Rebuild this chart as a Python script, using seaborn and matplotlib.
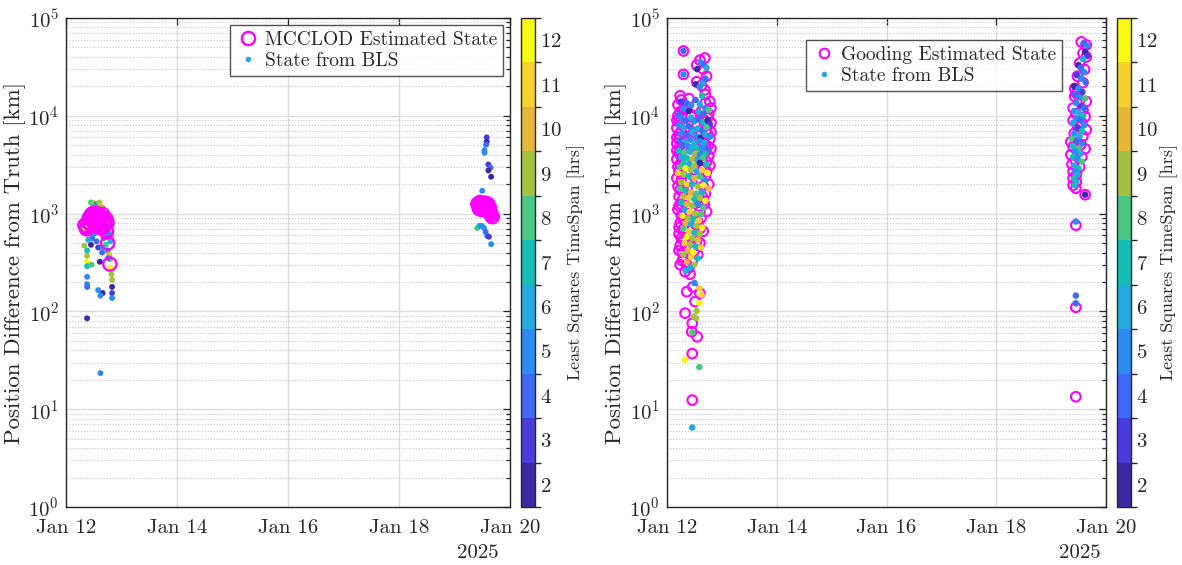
import numpy as np
import pandas as pd
import matplotlib
matplotlib.use("Agg")
import matplotlib.pyplot as plt
import matplotlib.dates as mdates
from matplotlib.colors import ListedColormap, BoundaryNorm
from matplotlib.lines import Line2D
from matplotlib.ticker import LogLocator, NullFormatter
import seaborn as sns

# ---------------- data (day offset from 2025-01-12, km, hrs) ----------------
START = "2025-01-12"
CBAR_TICKS = list(range(2, 13))
CBAR_COLORS = ["#3d27a3", "#483cdc", "#3f6af8", "#2d8cf3", "#24aade", "#14bdb5",
               "#4ac883", "#a4c23f", "#e8b737", "#f9d12e", "#f8fa14"]
XTICK_DAYS = ["2025-01-12", "2025-01-14", "2025-01-16", "2025-01-18", "2025-01-20"]

# Left panel: MCCLOD estimated states (day, km)
L_MCC = [(0.37, 700), (0.34, 760), (0.40, 820), (0.42, 900), (0.45, 960), (0.48, 1000),
         (0.50, 870), (0.52, 940), (0.55, 1000), (0.57, 880), (0.60, 960), (0.62, 820),
         (0.64, 900), (0.66, 980), (0.68, 840), (0.70, 760), (0.72, 880), (0.74, 800),
         (0.44, 780), (0.53, 780), (0.60, 720), (0.38, 730), (0.47, 850), (0.58, 800),
         (0.66, 720), (0.73, 650), (0.75, 500), (0.79, 305),
         (7.42, 1250), (7.44, 1200), (7.46, 1300), (7.48, 1180), (7.50, 1250), (7.52, 1150),
         (7.54, 1220), (7.56, 1120), (7.58, 1180), (7.60, 1100), (7.62, 1060), (7.64, 1020),
         (7.66, 980), (7.68, 930), (7.45, 1120), (7.50, 1100), (7.55, 1280), (7.60, 1250),
         (7.63, 1150)]

# Left panel: states from BLS (day, km, hrs)
L_BLS = [(0.45, 1300, 8), (0.50, 1280, 9), (0.55, 1250, 5), (0.60, 1300, 9), (0.62, 1200, 10),
         (0.48, 1150, 7), (0.53, 1100, 3), (0.58, 1120, 4), (0.64, 1050, 2), (0.47, 1050, 5),
         (0.57, 1020, 6), (0.66, 1150, 9),
         (0.38, 420, 7), (0.38, 370, 9), (0.38, 322, 12), (0.38, 290, 7), (0.38, 226, 5),
         (0.38, 190, 5), (0.38, 178, 4), (0.38, 85, 2), (0.45, 480, 2), (0.47, 560, 4),
         (0.50, 620, 5), (0.55, 520, 4), (0.58, 450, 3), (0.61, 322, 2), (0.65, 400, 4),
         (0.68, 560, 5), (0.70, 600, 7), (0.72, 480, 8), (0.75, 420, 5), (0.78, 380, 10),
         (0.80, 340, 9), (0.80, 280, 12), (0.82, 240, 9), (0.83, 210, 9), (0.83, 178, 2),
         (0.83, 154, 3), (0.83, 137, 5), (0.66, 154, 2), (0.62, 145, 5), (0.58, 165, 5),
         (0.62, 23.4, 5), (0.40, 540, 6), (0.42, 650, 3), (0.52, 700, 6), (0.60, 760, 7),
         (0.72, 700, 4), (0.78, 620, 5), (0.80, 520, 6), (0.76, 350, 4), (0.66, 450, 6),
         (0.46, 300, 8), (0.33, 700, 12), (0.33, 470, 9),
         (7.58, 6020, 3), (7.58, 5440, 2), (7.57, 5070, 4), (7.54, 4450, 5), (7.54, 4180, 5),
         (7.61, 3180, 3), (7.65, 2950, 4), (7.61, 2760, 2), (7.66, 2380, 2), (7.50, 1710, 5),
         (7.47, 1290, 5), (7.49, 1010, 4), (7.41, 710, 8), (7.45, 750, 7), (7.49, 750, 5),
         (7.53, 715, 5), (7.56, 650, 4), (7.59, 590, 4), (7.62, 580, 3), (7.66, 487, 5)]

# Right panel: Gooding estimated states (day, km)
R_GOOD = [(0.30, 46000), (0.30, 26500), (0.60, 37000), (0.69, 39000), (0.54, 33000),
          (0.66, 30000), (0.72, 25400), (0.54, 22300), (0.63, 20500), (0.69, 18400),
          (0.24, 16000), (0.40, 15000), (0.70, 16500), (0.78, 14000), (0.20, 13000),
          (0.52, 12500), (0.80, 12000), (0.30, 11500), (0.62, 11000), (0.20, 10000),
          (0.76, 10500), (0.44, 9800), (0.18, 9000), (0.66, 9200), (0.80, 8500),
          (0.28, 8200), (0.55, 8000), (0.18, 7500), (0.72, 7200), (0.36, 7000),
          (0.80, 6800), (0.22, 6500), (0.60, 6300), (0.18, 6000), (0.78, 5800),
          (0.42, 5600), (0.18, 5200), (0.70, 5000), (0.28, 4800), (0.80, 4600),
          (0.18, 4400), (0.56, 4200), (0.24, 4000), (0.76, 3900), (0.18, 3600),
          (0.64, 3500), (0.34, 3300), (0.78, 3100), (0.20, 3000), (0.50, 2800),
          (0.72, 2700), (0.26, 2500), (0.18, 2300), (0.62, 2200), (0.36, 2100),
          (0.76, 2000), (0.20, 1900), (0.54, 1800), (0.30, 1700), (0.70, 1600),
          (0.22, 1500), (0.46, 1400), (0.66, 1350), (0.26, 1250), (0.58, 1200),
          (0.20, 1100), (0.72, 1050), (0.36, 1000), (0.26, 950), (0.62, 900),
          (0.40, 850), (0.24, 800), (0.52, 780), (0.30, 700), (0.66, 660),
          (0.22, 620), (0.48, 580), (0.30, 540), (0.60, 500), (0.24, 470),
          (0.42, 440), (0.28, 400), (0.56, 380), (0.30, 350), (0.46, 330),
          (0.24, 300), (0.40, 280), (0.33, 255), (0.42, 240),
          (0.26, 14500), (0.34, 12000), (0.70, 13500), (0.24, 11000), (0.74, 9500),
          (0.22, 8600), (0.34, 7600), (0.68, 7800), (0.26, 6900), (0.74, 6500),
          (0.22, 5800), (0.64, 5400), (0.24, 5000), (0.74, 4900), (0.22, 4200),
          (0.70, 4300), (0.26, 3800), (0.72, 3400), (0.24, 3200), (0.68, 2950),
          (0.22, 2700), (0.70, 2400), (0.26, 2150), (0.66, 1900), (0.24, 1750),
          (0.64, 1500), (0.28, 1380), (0.68, 1250), (0.22, 1200), (0.60, 1050),
          (0.30, 880), (0.56, 820), (0.22, 720), (0.60, 700), (0.26, 560),
          (0.54, 520), (0.22, 420), (0.50, 420), (0.28, 330), (0.36, 300),
          (0.47, 178), (0.60, 153), (0.36, 159), (0.51, 126), (0.33, 96),
          (0.46, 75.5), (0.45, 62), (0.55, 55), (0.46, 37), (0.46, 12.4),
          (7.55, 57000), (7.64, 53000), (7.58, 43600), (7.64, 40000), (7.52, 34600),
          (7.61, 29800), (7.48, 25400), (7.58, 21800), (7.43, 19000), (7.46, 17000),
          (7.43, 15800), (7.52, 14500), (7.64, 14000), (7.40, 12000), (7.58, 11500),
          (7.45, 10500), (7.62, 9800), (7.40, 9000), (7.56, 8500), (7.48, 7800),
          (7.64, 7200), (7.42, 6600), (7.58, 6200), (7.46, 5700), (7.36, 5400),
          (7.54, 5100), (7.40, 4800), (7.62, 4600), (7.48, 4300), (7.36, 4000),
          (7.56, 3800), (7.44, 3500), (7.38, 3200), (7.52, 3000), (7.40, 2700),
          (7.46, 2500), (7.40, 2300), (7.46, 2100), (7.40, 1950), (7.45, 1820),
          (7.62, 1560), (7.45, 760), (7.45, 110), (7.45, 13.4)]

# Right panel: states from BLS (day, km, hrs)
R_BLS = [(0.30, 46000, 4), (0.30, 26500, 5), (0.55, 30000, 2), (0.62, 35000, 5),
         (0.68, 33000, 4), (0.72, 31000, 6), (0.52, 21000, 2), (0.60, 20000, 5),
         (0.66, 22000, 6), (0.70, 24000, 4), (0.64, 16000, 7),
         (0.26, 14000, 3), (0.36, 13500, 4), (0.44, 12800, 5), (0.52, 14500, 4),
         (0.60, 13000, 6), (0.70, 12000, 5), (0.30, 11800, 5), (0.40, 11200, 2),
         (0.58, 11000, 6), (0.66, 10500, 4), (0.76, 11500, 8), (0.22, 10200, 4),
         (0.26, 9500, 5), (0.34, 9000, 4), (0.44, 9600, 6), (0.50, 8800, 5), (0.58, 9200, 4),
         (0.66, 8600, 7), (0.74, 9000, 2), (0.78, 8200, 3), (0.22, 8000, 5), (0.30, 7600, 6),
         (0.40, 7800, 4), (0.48, 7200, 5), (0.56, 7400, 6), (0.64, 7000, 4), (0.72, 7600, 8),
         (0.26, 6600, 5), (0.36, 6400, 4), (0.46, 6800, 6), (0.54, 6200, 5), (0.62, 6000, 2),
         (0.70, 6400, 6), (0.78, 6100, 5), (0.24, 5600, 4), (0.32, 5400, 6), (0.42, 5700, 5),
         (0.50, 5200, 7), (0.60, 5500, 5), (0.68, 5300, 6), (0.28, 5000, 4), (0.38, 4900, 5),
         (0.46, 4800, 6), (0.56, 4600, 7), (0.64, 4700, 5), (0.74, 4500, 4), (0.22, 4400, 7),
         (0.32, 4200, 8), (0.42, 4300, 6), (0.52, 4100, 9), (0.60, 4000, 5), (0.70, 4100, 7),
         (0.26, 3800, 6), (0.36, 3700, 7), (0.46, 3600, 9), (0.56, 3500, 6), (0.66, 3700, 8),
         (0.30, 3300, 7), (0.40, 3200, 6), (0.50, 3100, 9), (0.60, 3300, 2), (0.72, 3200, 7),
         (0.24, 3000, 8),
         (0.34, 2900, 12), (0.44, 2800, 9), (0.54, 2700, 6), (0.64, 2800, 11), (0.74, 2600, 12),
         (0.20, 2600, 11), (0.30, 2500, 9), (0.40, 2400, 7), (0.50, 2300, 10), (0.60, 2400, 8),
         (0.70, 2200, 5), (0.26, 2100, 9), (0.36, 2000, 11), (0.46, 2000, 6), (0.56, 1900, 9),
         (0.66, 1950, 12), (0.76, 1800, 10), (0.24, 1800, 8), (0.34, 1700, 7), (0.44, 1650, 10),
         (0.54, 1600, 8), (0.64, 1650, 6), (0.30, 1500, 9), (0.40, 1450, 11), (0.50, 1400, 7),
         (0.60, 1450, 9), (0.70, 1350, 12), (0.26, 1300, 7), (0.36, 1250, 10), (0.46, 1200, 9),
         (0.56, 1250, 5), (0.66, 1150, 8), (0.32, 1100, 6), (0.42, 1050, 11), (0.52, 1000, 9),
         (0.62, 980, 8), (0.28, 950, 12), (0.38, 900, 9), (0.48, 880, 7), (0.58, 850, 11),
         (0.34, 800, 10), (0.44, 780, 6), (0.54, 750, 9), (0.64, 720, 12), (0.30, 700, 8),
         (0.40, 660, 11), (0.50, 640, 7), (0.60, 620, 9), (0.36, 580, 12), (0.46, 560, 9),
         (0.56, 540, 10), (0.32, 500, 11), (0.42, 480, 9), (0.52, 460, 7), (0.62, 450, 11),
         (0.38, 420, 10), (0.48, 400, 12), (0.30, 380, 9), (0.44, 360, 11), (0.56, 350, 7),
         (0.36, 320, 10), (0.50, 300, 9), (0.42, 280, 6), (0.34, 260, 6),
         (0.50, 195, 5), (0.59, 172, 11), (0.63, 147, 11), (0.59, 121, 12), (0.54, 101, 9),
         (0.49, 88, 9), (0.53, 85, 9), (0.46, 61, 8), (0.33, 32, 12), (0.59, 27, 8),
         (0.46, 6.5, 6),
         (7.59, 55000, 4), (7.66, 52000, 5), (7.62, 45000, 2), (7.66, 41000, 3),
         (7.58, 38000, 6), (7.50, 33000, 2), (7.54, 31000, 4), (7.60, 28000, 5),
         (7.47, 26000, 3), (7.55, 24000, 5), (7.63, 22000, 4), (7.42, 20000, 2),
         (7.50, 19000, 5), (7.57, 17500, 3), (7.44, 16500, 4), (7.52, 15500, 5),
         (7.62, 15000, 8), (7.46, 13500, 5), (7.55, 12500, 3), (7.60, 12000, 4),
         (7.42, 11200, 5), (7.50, 10800, 6), (7.58, 10000, 7), (7.46, 9400, 5),
         (7.54, 9000, 4), (7.40, 8500, 6), (7.60, 8000, 5), (7.48, 7600, 3), (7.56, 7000, 7),
         (7.42, 6600, 5), (7.52, 6200, 6), (7.38, 5800, 8), (7.46, 5500, 4), (7.56, 5200, 5),
         (7.40, 4900, 7), (7.50, 4600, 8), (7.44, 4300, 5), (7.54, 4100, 6), (7.40, 3800, 7),
         (7.48, 3600, 5), (7.56, 3400, 8), (7.42, 3100, 6), (7.50, 2900, 7), (7.44, 2700, 5),
         (7.48, 2500, 6), (7.42, 2300, 7), (7.46, 2100, 6), (7.43, 1950, 7), (7.62, 1560, 2),
         (7.45, 830, 5), (7.45, 145, 4), (7.45, 121, 4)]

# ---------------- style ----------------
sns.set_theme(style="white")
plt.rcParams["font.family"] = ["cmr10", "DejaVu Serif"]
plt.rcParams["mathtext.fontset"] = "cm"
plt.rcParams["axes.formatter.use_mathtext"] = True
plt.rcParams["axes.unicode_minus"] = False

MAGENTA = "#ff00ff"
cmap = ListedColormap(CBAR_COLORS)
norm = BoundaryNorm(np.arange(1.5, 13.0, 1.0), cmap.N)
t0 = pd.Timestamp(START)


def to_df(rows, cols):
    df = pd.DataFrame(rows, columns=cols)
    df["t"] = t0 + pd.to_timedelta(df["day"], unit="D")
    return df


W, H = 1182, 565
fig = plt.figure(figsize=(W / 100, H / 100), dpi=100)


def fx(px):
    return px / W


def fy(py):
    return 1 - py / H


def panel(ax_px, cax_px, circ_rows, dot_rows, circ_label, circ_s, circ_lw, dot_s,
          circles_on_top, leg_anchor, year_x, cbar_label_pad):
    x0, x1 = ax_px
    ax = fig.add_axes([fx(x0), fy(507), fx(x1 - x0), (507 - 18) / H])
    cax = fig.add_axes([fx(cax_px[0]), fy(507), fx(cax_px[1] - cax_px[0]), (507 - 18) / H])

    circ = to_df(circ_rows, ["day", "km"])
    dots = to_df(dot_rows, ["day", "km", "hrs"])

    z_c, z_d = (4, 3) if circles_on_top else (3, 4)
    sns.scatterplot(data=dots, x="t", y="km", hue="hrs", palette=cmap, hue_norm=norm,
                    s=dot_s, linewidth=0, legend=False, ax=ax, zorder=z_d)
    sns.scatterplot(data=circ, x="t", y="km", marker="o", s=circ_s,
                    facecolor="none", edgecolor=MAGENTA, linewidth=circ_lw,
                    legend=False, ax=ax, zorder=z_c)

    ax.set_yscale("log")
    ax.set_ylim(1, 1e5)
    ax.set_xlim(t0, t0 + pd.Timedelta(days=8))
    ax.set_xticks(pd.to_datetime(XTICK_DAYS))
    ax.xaxis.set_major_formatter(mdates.DateFormatter("%b %d"))
    ax.yaxis.set_major_locator(LogLocator(base=10, numticks=10))
    ax.yaxis.set_minor_locator(LogLocator(base=10, subs=np.arange(2, 10), numticks=20))
    ax.yaxis.set_minor_formatter(NullFormatter())

    ax.grid(True, which="major", color="#dcdcdc", linewidth=1.0, linestyle="-", zorder=0)
    ax.grid(True, which="minor", axis="y", color="#c4c4c4", linewidth=0.8,
            linestyle=(0, (1, 1.6)), zorder=0)
    ax.set_axisbelow(True)
    ax.tick_params(which="both", direction="in", top=True, right=True, labelsize=15,
                   color="#262626", width=0.9)
    ax.tick_params(which="major", length=5, pad=5)
    ax.tick_params(axis="x", which="major", pad=9)
    ax.tick_params(which="minor", length=3)
    for sp in ax.spines.values():
        sp.set_color("#262626")
        sp.set_linewidth(1.0)
    ax.set_xlabel("")
    ax.set_ylabel("Position Difference from Truth [km]", fontsize=16.5, labelpad=2)
    ax.text(year_x, -0.094, "2025", transform=ax.transAxes, ha="center", va="center",
            fontsize=15)

    handles = [Line2D([], [], linestyle="none", marker="o", markersize=circ_s ** 0.5,
                      markerfacecolor="none", markeredgecolor=MAGENTA, markeredgewidth=circ_lw),
               Line2D([], [], linestyle="none", marker="o", markersize=4,
                      markerfacecolor=CBAR_COLORS[4], markeredgecolor="none")]
    leg = ax.legend(handles, [circ_label, "State from BLS"], loc="upper right",
                    bbox_to_anchor=leg_anchor, borderaxespad=0, fontsize=14,
                    frameon=True, fancybox=False, handletextpad=0.3, borderpad=0.3,
                    labelspacing=0.15, handlelength=1.2)
    leg.get_frame().set_edgecolor("#262626")
    leg.get_frame().set_linewidth(1.0)
    leg.set_zorder(10)

    sm = matplotlib.cm.ScalarMappable(norm=norm, cmap=cmap)
    cb = fig.colorbar(sm, cax=cax, ticks=CBAR_TICKS)
    cb.ax.tick_params(direction="in", length=4, width=0.9, labelsize=15, color="#262626")
    cb.outline.set_linewidth(1.0)
    cb.outline.set_edgecolor("#262626")
    cb.set_label("Least Squares TimeSpan [hrs]", fontsize=13, labelpad=cbar_label_pad)
    return ax


panel((66, 510), (521, 535), L_MCC, L_BLS, "MCCLOD Estimated State", 90, 1.7, 18, True,
      (0.985, 0.985), 0.928, 4)
panel((667, 1106), (1117, 1131), R_GOOD, R_BLS, "Gooding Estimated State", 48, 1.5, 22, False,
      (0.90, 0.955), 0.94, 2)

fig.savefig("out.png", dpi=100)
